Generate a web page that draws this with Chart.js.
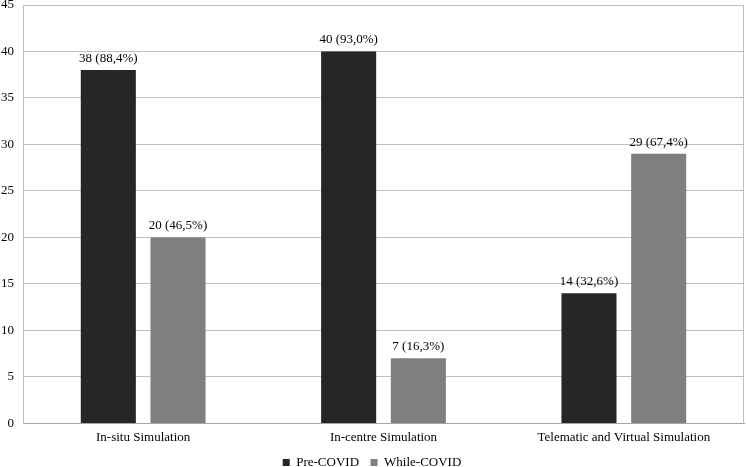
<!DOCTYPE html>
<html>
<head>
<meta charset="utf-8">
<script src="https://cdn.jsdelivr.net/npm/chart.js@4"></script>
<style>
  html, body { margin: 0; padding: 0; background: #fff; }
  #wrap { width: 746px; height: 467px; }
</style>
</head>
<body>
<div id="wrap"><canvas id="myChart"></canvas></div>
<script>
var categories = ['In-situ Simulation', 'In-centre Simulation', 'Telematic and Virtual Simulation'];
var preCovid = [38, 40, 14];
var whileCovid = [20, 7, 29];
var prePct = ['88,4%', '93,0%', '32,6%'];
var whilePct = ['46,5%', '16,3%', '67,4%'];
var yTicks = [0, 5, 10, 15, 20, 25, 30, 35, 40, 45];

var serif = "'Liberation Serif', 'Times New Roman', serif";

// value labels above each bar, e.g. "38 (88,4%)"
var barLabels = {
    id: 'barLabels',
    afterDatasetsDraw: function (chart) {
        var ctx = chart.ctx;
        var pcts = [prePct, whilePct];
        ctx.save();
        ctx.font = '13px ' + serif;
        ctx.fillStyle = '#000';
        ctx.textAlign = 'center';
        ctx.textBaseline = 'bottom';
        chart.data.datasets.forEach(function (ds, i) {
            chart.getDatasetMeta(i).data.forEach(function (bar, j) {
                ctx.fillText(ds.data[j] + ' (' + pcts[i][j] + ')', bar.x, bar.y - 5);
            });
        });
        ctx.restore();
    }
};

// frame round the plot area
var frame = {
    id: 'frame',
    afterDraw: function (chart) {
        var a = chart.chartArea;
        var ctx = chart.ctx;
        ctx.save();
        ctx.strokeStyle = '#bfbfbf';
        ctx.lineWidth = 1;
        ctx.beginPath();
        ctx.moveTo(a.left, a.top + 0.5);
        ctx.lineTo(a.right - 0.5, a.top + 0.5);
        ctx.lineTo(a.right - 0.5, a.bottom);
        ctx.stroke();
        ctx.restore();
    }
};

new Chart(document.getElementById('myChart'), {
    type: 'bar',
    data: {
        labels: categories,
        datasets: [{
            label: 'Pre-COVID',
            data: preCovid,
            backgroundColor: '#262626'
        }, {
            label: 'While-COVID',
            data: whileCovid,
            backgroundColor: '#7f7f7f'
        }]
    },
    options: {
        responsive: true,
        maintainAspectRatio: false,
        animation: false,
        layout: { padding: { top: 5, right: 2, left: 0, bottom: -12 } },
        datasets: {
            bar: { categoryPercentage: 0.58, barPercentage: 0.79 }
        },
        scales: {
            x: {
                grid: { display: false, drawTicks: false },
                border: { color: '#a6a6a6' },
                ticks: { color: '#000', font: { family: serif, size: 13 }, padding: 6 }
            },
            y: {
                min: 0,
                max: 45,
                afterBuildTicks: function (scale) {
                    scale.ticks = yTicks.map(function (v) { return { value: v }; });
                },
                afterFit: function (scale) {
                    scale.width = 23;
                    scale.paddingTop = 0;
                    scale.paddingBottom = 0;
                },
                grid: { color: '#bfbfbf', drawTicks: false },
                border: { color: '#bfbfbf' },
                ticks: { color: '#000', font: { family: serif, size: 13 }, padding: 9 }
            }
        },
        plugins: {
            legend: {
                position: 'bottom',
                labels: {
                    boxWidth: 7,
                    boxHeight: 7,
                    padding: 5,
                    color: '#000',
                    font: { family: serif, size: 13 },
                    generateLabels: function (chart) {
                        var items = Chart.defaults.plugins.legend.labels.generateLabels(chart);
                        items[0].text += '  '; // a bit more room between the two entries
                        return items;
                    }
                }
            },
            tooltip: { enabled: false }
        }
    },
    plugins: [barLabels, frame]
});
</script>
</body>
</html>
